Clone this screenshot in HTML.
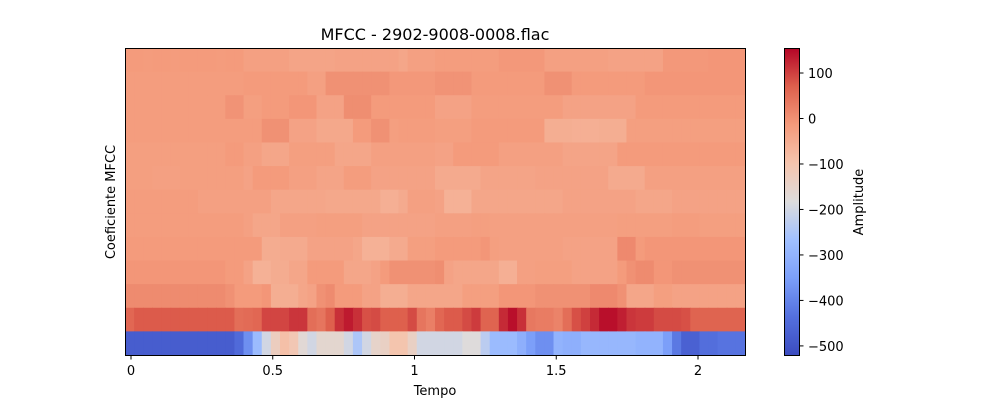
<!DOCTYPE html>
<html><head><meta charset="utf-8"><style>
body{margin:0;background:#fff;font-family:"Liberation Sans","DejaVu Sans",sans-serif}
svg text{font-family:"DejaVu Sans","Liberation Sans",sans-serif;fill:#000}
</style></head><body>
<svg id="chart" width="1000" height="400" xmlns="http://www.w3.org/2000/svg">
<rect width="1000" height="400" fill="#fff"/>
<text x="435" y="40" font-size="16" text-anchor="middle">MFCC - 2902-9008-0008.flac</text>
<g id="cells"></g>
<rect x="125.5" y="48.5" width="620" height="307" fill="none" stroke="#000" stroke-width="1"/>
<g id="xticks"></g>
<text x="435" y="395" font-size="13" text-anchor="middle">Tempo</text>
<text x="115" y="202" font-size="13" text-anchor="middle" transform="rotate(-90 115 202)">Coeficiente MFCC</text>
<g id="cbar"></g>
<text x="863" y="202" font-size="13" text-anchor="middle" transform="rotate(-90 863 202)">Amplitude</text>
</svg>
<script>
// rows top (index 0) to bottom (MFCC 0 is bottom row)
const row0=[-15,-15,-17,-15,-15,-17,-15,-15,-15,-15,-17,-15,-15,-26,-26,-26,-26,-26,-34,-34,-34,-34,-34,-30,-30,-30,-30,-30,-30,-30,-38,-26,-26,-26,-19,-19,-19,-19,-19,-19,-19,-11,-11,-11,-11,-11,-26,-26,-26,-26,-26,-26,-26,-30,-30,-30,-30,-30,-30,-11,-11,-11,-11,-11,-8,-8,-8,-8];
const row1=[-19,-19,-19,-19,-19,-19,-19,-19,-19,-19,-19,-19,-19,-15,-15,-15,-15,-15,-15,-15,-26,-26,0,0,0,0,0,0,0,-11,-11,-11,-11,-11,-4,-4,-4,-4,-15,-15,-15,-15,-15,-15,-15,-15,0,0,0,-15,-15,-15,-15,-15,-15,-15,-15,-8,-8,-8,-8,-8,-8,-8,-8,-8,-8,-8];
const row2=[-19,-19,-19,-19,-19,-19,-19,-19,-19,-19,-19,-4,-4,-23,-23,-15,-15,-15,-8,-8,-8,-30,-30,-30,4,4,4,-15,-15,-15,-15,-15,-15,-15,-30,-30,-30,-30,-19,-19,-19,-19,-19,-19,-19,-19,-19,-19,-30,-30,-30,-30,-30,-30,-30,-30,-15,-15,-15,-15,-15,-15,-15,-15,-15,-15,-15,-15];
const row3=[-19,-19,-19,-19,-19,-19,-19,-19,-19,-19,-19,-19,-19,-19,-19,0,0,0,-30,-30,-30,-41,-41,-41,-41,-15,-15,0,0,-23,-19,-19,-19,-19,-23,-23,-23,-23,-15,-15,-15,-15,-15,-15,-15,-15,-53,-53,-53,-56,-56,-56,-53,-53,-53,-23,-23,-23,-23,-23,-23,-23,-23,-23,-23,-23,-23,-23];
const row4=[-23,-23,-23,-23,-23,-23,-23,-23,-23,-23,-23,-15,-15,-26,-26,-38,-38,-38,-23,-23,-23,-23,-23,-38,-38,-38,-38,-26,-26,-26,-26,-26,-26,-26,-30,-30,-15,-15,-15,-15,-15,-26,-26,-26,-26,-26,-26,-26,-34,-34,-34,-34,-34,-34,-15,-15,-15,-15,-15,-15,-15,-15,-15,-15,-15,-15,-15,-15];
const row5=[-23,-23,-23,-26,-26,-26,-23,-23,-23,-23,-23,-23,-23,-30,-15,-15,-15,-15,-26,-26,-26,-34,-34,-34,-19,-19,-19,-30,-30,-30,-30,-30,-30,-30,-45,-45,-45,-45,-45,-34,-34,-34,-34,-34,-34,-30,-30,-30,-30,-30,-30,-30,-30,-45,-45,-45,-45,-26,-26,-26,-26,-26,-26,-26,-26,-26,-26,-26];
const row6=[-19,-19,-19,-19,-19,-19,-19,-19,-26,-26,-26,-26,-26,-26,-26,-26,-38,-38,-38,-38,-38,-38,-41,-41,-41,-41,-41,-41,-56,-56,-45,-26,-26,-26,-30,-60,-60,-60,-38,-38,-38,-38,-38,-38,-38,-38,-38,-38,-30,-30,-30,-30,-30,-30,-30,-30,-38,-38,-38,-38,-30,-30,-30,-30,-30,-30,-30,-30];
const row7=[-19,-19,-19,-19,-19,-19,-19,-19,-19,-19,-19,-19,-19,-26,-38,-38,-38,-26,-26,-26,-26,-23,-23,-23,-23,-23,-30,-30,-30,-30,-30,-30,-30,-30,-26,-26,-26,-26,-23,-23,-26,-26,-26,-26,-26,-26,-26,-26,-26,-26,-26,-26,-26,-26,-23,-23,-23,-23,-23,-23,-19,-19,-19,-23,-23,-23,-23,-23];
const row8=[-15,-15,-15,-15,-15,-15,-15,-15,-15,-15,-15,-15,-15,-15,-15,-49,-49,-45,-45,-45,-30,-30,-30,-30,-30,-38,-60,-60,-60,-45,-45,-23,-23,-23,-15,-15,-15,-15,-15,-8,-23,-26,-26,-26,-26,-26,-26,-26,-30,-30,-30,-30,-30,-30,11,11,-15,-8,-8,-8,-8,-8,-8,-8,-8,-8,-8,-8];
const row9=[-8,-8,-8,-8,-8,-8,-8,-8,-8,-8,-8,-15,-15,-30,-60,-60,-49,-49,-38,-38,-15,-15,-15,-15,-38,-38,-38,-30,-15,0,0,0,0,0,4,-30,-38,-38,-38,-38,-38,-56,-56,-26,-26,-23,-23,-23,-23,-30,-30,-30,-30,-30,-15,0,8,8,-8,-8,0,0,0,0,0,0,0,0];
const row10=[8,8,8,8,8,8,8,8,8,8,8,0,-15,-15,-15,-8,-53,-53,-53,-38,-30,0,8,-15,-15,-15,-30,-30,-53,-53,-53,-38,-38,-38,-38,-38,-38,-23,-23,-23,-23,-8,-8,-8,-8,0,0,0,0,0,0,11,11,11,0,-38,-38,-38,-23,-23,-30,-30,-30,-30,-30,-30,-30,-30];
const row11=[60,75,75,75,75,75,75,75,75,75,75,75,50,55,60,95,95,95,110,110,50,40,70,115,135,115,85,90,70,70,70,90,40,25,60,75,75,90,105,65,65,120,145,115,35,30,30,20,50,85,100,120,145,145,130,110,105,105,90,90,90,85,65,65,65,65,65,65];
const row12=[-480,-480,-480,-480,-480,-480,-480,-480,-480,-480,-480,-480,-450,-380,-280,-200,-130,-90,-110,-170,-200,-160,-160,-160,-200,-250,-200,-150,-140,-100,-100,-140,-200,-200,-200,-200,-200,-180,-180,-230,-280,-280,-280,-310,-350,-380,-380,-300,-310,-310,-290,-290,-290,-290,-290,-290,-300,-300,-300,-350,-420,-470,-470,-440,-440,-430,-430,-430];
const rows=[row0,row1,row2,row3,row4,row5,row6,row7,row8,row9,row10,row11,row12];
const xTickValues=[0,0.5,1,1.5,2];
const xTickLabels=["0","0.5","1","1.5","2"];
const cbTickValues=[100,0,-100,-200,-300,-400,-500];
const cbTickLabels=["100","0","\u2212100","\u2212200","\u2212300","\u2212400","\u2212500"];
const vmin=-520, vmax=155;

const NS="http://www.w3.org/2000/svg";
const PX0=125,PX1=745,PY0=48,PY1=355;
const stops=[[0,[59,76,192]],[0.125,[84,112,222]],[0.25,[123,159,249]],[0.375,[161,192,255]],[0.5,[221,220,220]],[0.625,[245,196,173]],[0.75,[244,154,123]],[0.875,[222,96,77]],[1,[180,4,38]]];
function cmap(v){let t=(v-vmin)/(vmax-vmin);t=Math.max(0,Math.min(1,t));
 for(let i=1;i<stops.length;i++){if(t<=stops[i][0]){const a=stops[i-1],b=stops[i],f=(t-a[0])/(b[0]-a[0]);
 return `rgb(${a[1].map((c,k)=>Math.round(c+(b[1][k]-c)*f)).join(',')})`;}}return 'rgb(180,4,38)';}
function xCol(c,n){return PX0+(PX1-PX0)*c/n;}
function yRow(r){return PY0+(PY1-PY0)*r/rows.length;}
function xTime(t){return 131+283.5*t;}
function yCb(v){return PY0+(vmax-v)/(vmax-vmin)*(PY1-PY0);}

const g=document.getElementById('cells');
rows.forEach((row,r)=>{row.forEach((v,c)=>{
 const e=document.createElementNS(NS,'rect');
 e.setAttribute('x',xCol(c,row.length));e.setAttribute('y',yRow(r));
 e.setAttribute('width',(PX1-PX0)/row.length+0.6);e.setAttribute('height',(PY1-PY0)/rows.length+0.6);
 e.setAttribute('fill',cmap(v));
 
 
 g.appendChild(e);});});

const xt=document.getElementById('xticks');
xTickValues.forEach((t,i)=>{const x=xTime(t);
 const l=document.createElementNS(NS,'line');l.setAttribute('x1',x);l.setAttribute('x2',x);l.setAttribute('y1',355.5);l.setAttribute('y2',359.5);l.setAttribute('stroke','#000');
 
 
 xt.appendChild(l);
 const tx=document.createElementNS(NS,'text');tx.setAttribute('x',x);tx.setAttribute('y',375);tx.setAttribute('font-size','13');tx.setAttribute('text-anchor','middle');tx.textContent=xTickLabels[i];
 
 
 xt.appendChild(tx);});

const cb=document.getElementById('cbar');
for(let i=0;i<307;i++){const y=PY0+i;const v=vmax-(i+0.5)/307*(vmax-vmin);
 const r=document.createElementNS(NS,'rect');r.setAttribute('x',784);r.setAttribute('y',y);r.setAttribute('width',15);r.setAttribute('height',1.2);r.setAttribute('fill',cmap(v));
 
 
 cb.appendChild(r);}
const fr=document.createElementNS(NS,'rect');fr.setAttribute('x',784.5);fr.setAttribute('y',48.5);fr.setAttribute('width',15);fr.setAttribute('height',307);fr.setAttribute('fill','none');fr.setAttribute('stroke','#000');


cb.appendChild(fr);
cbTickValues.forEach((v,i)=>{const y=yCb(v);
 const l=document.createElementNS(NS,'line');l.setAttribute('x1',799.5);l.setAttribute('x2',803.5);l.setAttribute('y1',y);l.setAttribute('y2',y);l.setAttribute('stroke','#000');
 
 
 cb.appendChild(l);
 const tx=document.createElementNS(NS,'text');tx.setAttribute('x',808);tx.setAttribute('y',y+5);tx.setAttribute('font-size','13');tx.textContent=cbTickLabels[i];
 
 
 cb.appendChild(tx);});
</script>
</body></html>
